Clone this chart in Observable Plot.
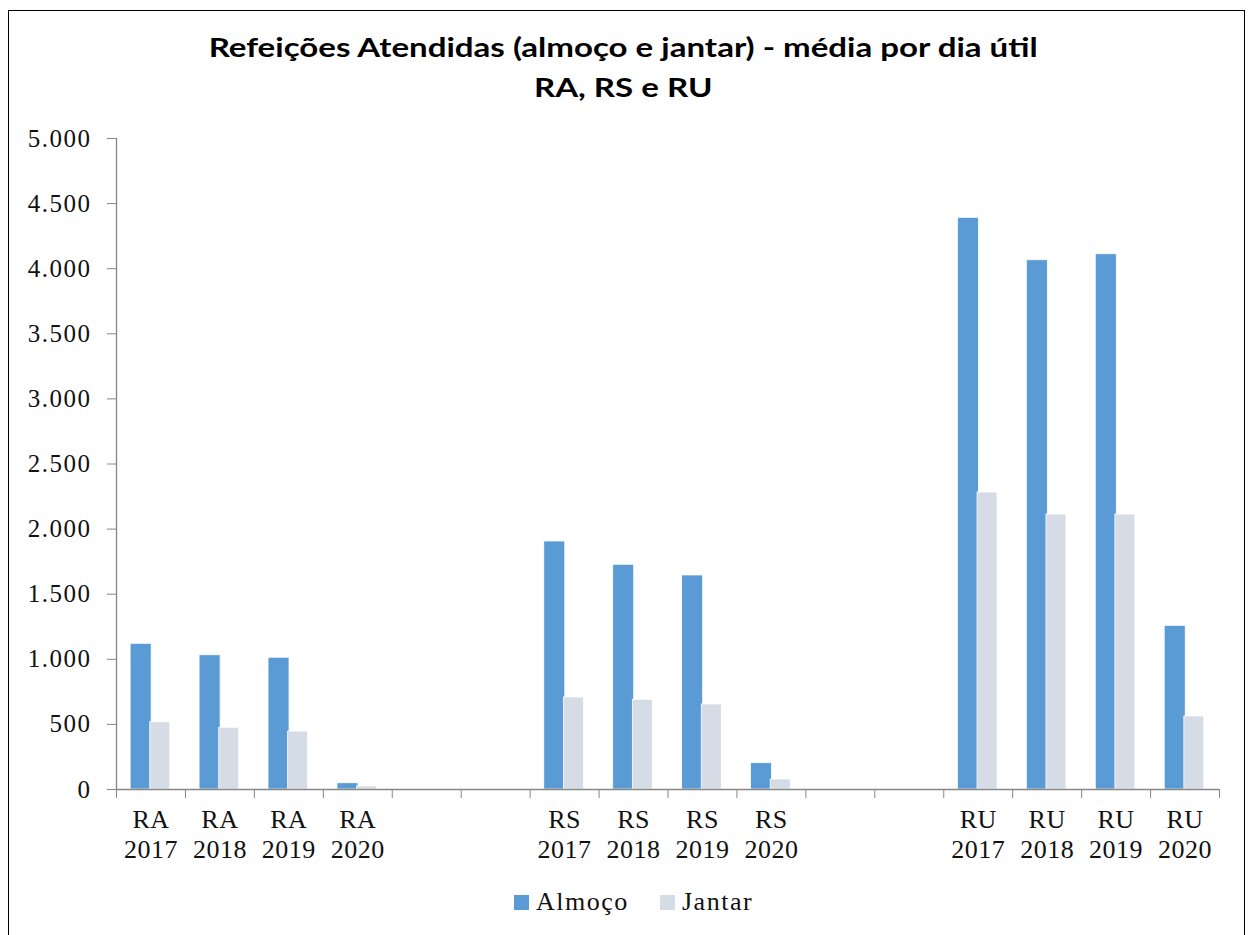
<!DOCTYPE html>
<html>
<head>
<meta charset="utf-8">
<script src="https://cdn.jsdelivr.net/npm/d3@7"></script>
<script src="https://cdn.jsdelivr.net/npm/@observablehq/plot@0.6"></script>
<style>
  html, body { margin: 0; padding: 0; background: #fff; }
  body { width: 1248px; height: 935px; position: relative; overflow: hidden; }
  #frame { position: absolute; left: 8px; top: 10px; width: 1237px; height: 940px; border: 1.5px solid #000; box-sizing: border-box; }
  #title { position: absolute; left: 0; top: 27px; width: 1248px; text-align: center; font-family: Lato, "Open Sans", sans-serif; font-weight: 700; font-size: 26px; line-height: 40px; color: #000; transform-origin: 627px 0; }
  #title span { white-space: nowrap; }
  #chart { position: absolute; left: 0; top: 120px; }
  #chart svg text { letter-spacing: 0.5px; }
  #legend { position: absolute; top: 884px; left: 0; width: 1248px; font-family: "Liberation Serif", "Times New Roman", serif; font-size: 26px; letter-spacing: 1.5px; color: #111; }
  .item { position: absolute; top: 0; display: flex; align-items: center; height: 36px; }
  .sw { width: 15px; height: 15px; margin-right: 7px; }
</style>
</head>
<body>
<div id="frame"></div>
<div id="title"><span id="t1">Refeições Atendidas (almoço e jantar) - média por dia útil</span><br><span>RA, RS e RU</span></div>
<div id="chart"></div>
<div id="legend"></div>
<script>
// ---- data ----
const slots = ["RA 2017", "RA 2018", "RA 2019", "RA 2020", "gap1", "gap2",
               "RS 2017", "RS 2018", "RS 2019", "RS 2020", "gap3", "gap4",
               "RU 2017", "RU 2018", "RU 2019", "RU 2020"];
const categories = ["RA 2017", "RA 2018", "RA 2019", "RA 2020",
                    "RS 2017", "RS 2018", "RS 2019", "RS 2020",
                    "RU 2017", "RU 2018", "RU 2019", "RU 2020"];
const series = ["Almoço", "Jantar"];
const almoco = [1119, 1031, 1012, 48, 1905, 1726, 1644, 202, 4391, 4065, 4111, 1257];
const jantar = [517, 474, 445, 23, 707, 689, 653, 77, 2281, 2112, 2112, 561];
const yTicks = [0, 500, 1000, 1500, 2000, 2500, 3000, 3500, 4000, 4500, 5000];
const colors = ["#5B9BD5", "#D6DCE5"];

const rowsA = categories.map((c, i) => ({slot: c, series: series[0], value: almoco[i]}));
const rowsJ = categories.map((c, i) => ({slot: c, series: series[1], value: jantar[i]}));

const W = 1248, H = 760, mL = 116, mR = 29, mT = 18, mB = 91;
const bw = (W - mL - mR) / slots.length;
const axisColor = "#868686";
const fmt = n => d3.format(",")(n).replace(/,/g, ".");
const serif = "Liberation Serif, Times New Roman, serif";

const chart = Plot.plot({
  width: W, height: H,
  marginLeft: mL, marginRight: mR, marginTop: mT, marginBottom: mB,
  style: {fontFamily: serif, color: "#111", background: "transparent"},
  x: {domain: slots, padding: 0, round: false, axis: null, label: null},
  y: {domain: [0, 5000], axis: null, label: null},
  color: {domain: series, range: colors},
  marks: [
    Plot.barY(rowsA, {x: "slot", y: "value", fill: "series", insetLeft: 0.205 * bw, insetRight: 0.49 * bw, stroke: "#fff", strokeWidth: 0.8}),
    Plot.barY(rowsJ, {x: "slot", y: "value", fill: "series", insetLeft: 0.49 * bw, insetRight: 0.22 * bw, stroke: "#fff", strokeWidth: 0.8}),
    Plot.ruleY([0], {stroke: axisColor, strokeWidth: 1.3}),
    Plot.ruleX([slots[0]], {y1: 0, y2: 5000, dx: -bw / 2, stroke: axisColor, strokeWidth: 1.3}),
    Plot.axisY({ticks: yTicks, tickSize: 9, tickPadding: 16, tickFormat: fmt, fontSize: 25, stroke: axisColor, fill: "#111", label: null}),
    Plot.axisX({ticks: slots, tickSize: 9, text: null, dx: -bw / 2, stroke: axisColor, label: null}),
    Plot.axisX({ticks: [slots[slots.length - 1]], tickSize: 9, text: null, dx: bw / 2, stroke: axisColor, label: null}),
    Plot.axisX({ticks: categories, tickSize: 0, tickPadding: 17, fontSize: 26, lineHeight: 1.15,
                tickFormat: d => d.replace(" ", "\n"), fill: "#111", label: null})
  ]
});
document.getElementById("chart").appendChild(chart);
chart.querySelectorAll("g[aria-label='y-axis tick label'] text").forEach(t => t.style.letterSpacing = "1.5px");

// stretch title to the reference width
const t1 = document.getElementById("t1");
const tw = t1.getBoundingClientRect().width;
document.getElementById("title").style.transform = `scaleX(${829 / tw})`;

const legend = document.getElementById("legend");
const lx = [514, 660];
series.forEach((s, i) => {
  const it = document.createElement("div");
  it.className = "item";
  it.style.left = lx[i] + "px";
  it.innerHTML = `<span class="sw" style="background:${colors[i]}"></span><span>${s}</span>`;
  legend.appendChild(it);
});
</script>
</body>
</html>
